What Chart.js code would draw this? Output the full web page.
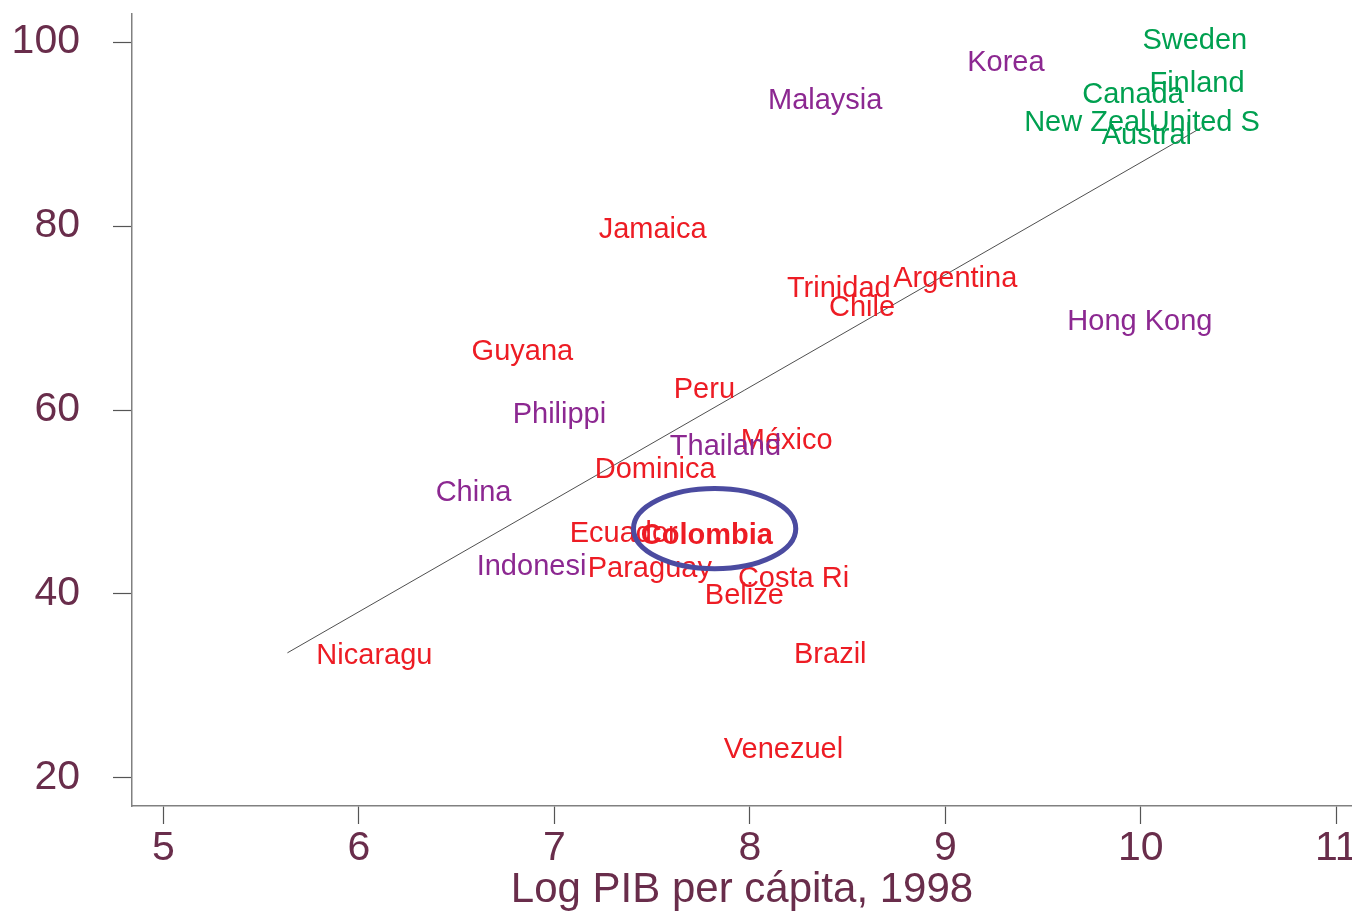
<!DOCTYPE html>
<html>
<head>
<meta charset="utf-8">
<script src="https://cdn.jsdelivr.net/npm/chart.js@4.4.0/dist/chart.umd.min.js"></script>
<style>
  html, body { margin: 0; padding: 0; background: #fff; }
  #wrap { width: 1352px; height: 914px; }
</style>
</head>
<body>
<div id="wrap"><canvas id="chart"></canvas></div>
<script>
// valores (log PIB per capita 1998, eje y)
var redNames = ["Jamaica", "Trinidad", "Argentina", "Chile", "Guyana", "Peru", "México", "Dominica",
                "Ecuador", "Paraguay", "Costa Ri", "Belize", "Nicaragu", "Brazil", "Venezuel"];
var redX = [7.227, 8.19, 8.733, 8.405, 6.577, 7.611, 7.954, 7.207, 7.079, 7.171, 7.939, 7.770, 5.783, 8.226, 7.867];
var redY = [80.0, 73.6, 74.7, 71.5, 66.7, 62.6, 57.1, 53.9, 47.0, 43.2, 42.1, 40.2, 33.7, 33.8, 23.5];

var purpleNames = ["Korea", "Malaysia", "Hong Kong", "Philippi", "Thailand", "China", "Indonesi"];
var purpleX = [9.112, 8.093, 9.624, 6.787, 7.591, 6.393, 6.603];
var purpleY = [98.2, 94.0, 70.0, 59.9, 56.4, 51.4, 43.4];

var greenNames = ["Sweden", "Finland", "Canada", "New Zeal", "United S", "Austral"];
var greenX = [10.008, 10.044, 9.70, 9.403, 10.04, 9.80];
var greenY = [100.6, 95.9, 94.7, 91.6, 91.6, 90.2];

var colName = ["Colombia"];
var colX = [7.442];
var colY = [46.7];

// recta ajustada (extremos)
var fitX = [5.635, 10.31];
var fitY = [33.6, 90.7];

// elipse alrededor de Colombia (centro y radios en unidades de datos)
var ellCenter = [7.82, 47.1];
var ellRadius = [0.415, 4.36];

var xTicks = [5, 6, 7, 8, 9, 10, 11];
var yTicks = [20, 40, 60, 80, 100];

var tickColor = "rgb(105,45,75)";
var fontFam = "'Liberation Sans', Arial, Helvetica, sans-serif";

function pts(xs, ys) {
    var out = [];
    for (var i = 0; i < xs.length; i++) out.push({ x: xs[i], y: ys[i] });
    return out;
}

function scatterSet(names, xs, ys, color, bold) {
    return {
        type: 'scatter',
        data: pts(xs, ys),
        names: names,
        labelColor: color,
        bold: bold,
        pointRadius: 0,
        pointHoverRadius: 0,
        showLine: false
    };
}

var labelPlugin = {
    id: 'labels',
    afterDatasetsDraw: function(chart) {
        var ctx = chart.ctx;
        chart.data.datasets.forEach(function(ds, i) {
            if (!ds.names) return;
            var meta = chart.getDatasetMeta(i);
            ctx.save();
            ctx.fillStyle = ds.labelColor;
            ctx.font = (ds.bold ? "bold " : "") + "29px " + fontFam;
            ctx.textAlign = 'left';
            ctx.textBaseline = 'alphabetic';
            meta.data.forEach(function(p, j) {
                ctx.fillText(ds.names[j], p.x, p.y + 12); // centrado vertical sobre el punto
            });
            ctx.restore();
        });
        // elipse
        var xs = chart.scales.x, ys = chart.scales.y;
        var cx = xs.getPixelForValue(ellCenter[0]);
        var cy = ys.getPixelForValue(ellCenter[1]);
        var rx = Math.abs(xs.getPixelForValue(ellCenter[0] + ellRadius[0]) - cx);
        var ry = Math.abs(ys.getPixelForValue(ellCenter[1] + ellRadius[1]) - cy);
        ctx.save();
        ctx.strokeStyle = "rgb(75,75,160)";
        ctx.lineWidth = 5;
        ctx.beginPath();
        ctx.ellipse(cx, cy, rx, ry, 0, 0, Math.PI * 2);
        ctx.stroke();
        ctx.restore();
    }
};

var ctx = document.getElementById("chart").getContext('2d');
var chart = new Chart(ctx, {
    type: 'scatter',
    data: {
        datasets: [
            {
                type: 'line',
                data: pts(fitX, fitY),
                borderColor: '#222',
                borderWidth: 0.8,
                pointRadius: 0,
                fill: false
            },
            scatterSet(redNames, redX, redY, "rgb(237,28,36)", false),
            scatterSet(purpleNames, purpleX, purpleY, "rgb(140,40,145)", false),
            scatterSet(greenNames, greenX, greenY, "rgb(0,160,80)", false),
            scatterSet(colName, colX, colY, "rgb(237,28,36)", true)
        ]
    },
    options: {
        responsive: true,
        maintainAspectRatio: false,
        animation: false,
        events: [],
        layout: { padding: { top: 14, right: 0, bottom: 0, left: 0 } },
        plugins: {
            legend: { display: false },
            tooltip: { enabled: false }
        },
        scales: {
            x: {
                type: 'linear',
                min: 4.84,
                max: 11.08,
                afterBuildTicks: function(s) { s.ticks = xTicks.map(function(v) { return { value: v }; }); },
                afterFit: function(s) { s.height = 108; s.paddingLeft = 0; s.paddingRight = 0; },
                grid: { drawOnChartArea: false, drawTicks: true, tickLength: 18, tickColor: '#555', tickWidth: 1.2 },
                border: { display: true, color: '#808080', width: 1.5 },
                ticks: {
                    color: tickColor,
                    font: { family: fontFam, size: 41 },
                    padding: 0,
                    maxRotation: 0,
                    autoSkip: false
                },
                title: {
                    display: true,
                    text: 'Log PIB per cápita, 1998',
                    color: tickColor,
                    font: { family: fontFam, size: 42 },
                    padding: { top: 0, bottom: -2 }
                }
            },
            y: {
                type: 'linear',
                min: 16.95,
                max: 103.05,
                afterBuildTicks: function(s) { s.ticks = yTicks.map(function(v) { return { value: v }; }); },
                afterFit: function(s) { s.width = 132; s.paddingTop = 0; s.paddingBottom = 0; },
                grid: { drawOnChartArea: false, drawTicks: true, tickLength: 19, tickColor: '#555', tickWidth: 1.2 },
                border: { display: true, color: '#808080', width: 1.5 },
                ticks: {
                    color: tickColor,
                    font: { family: fontFam, size: 41 },
                    padding: 33,
                    autoSkip: false
                }
            }
        }
    },
    plugins: [labelPlugin]
});
</script>
</body>
</html>
